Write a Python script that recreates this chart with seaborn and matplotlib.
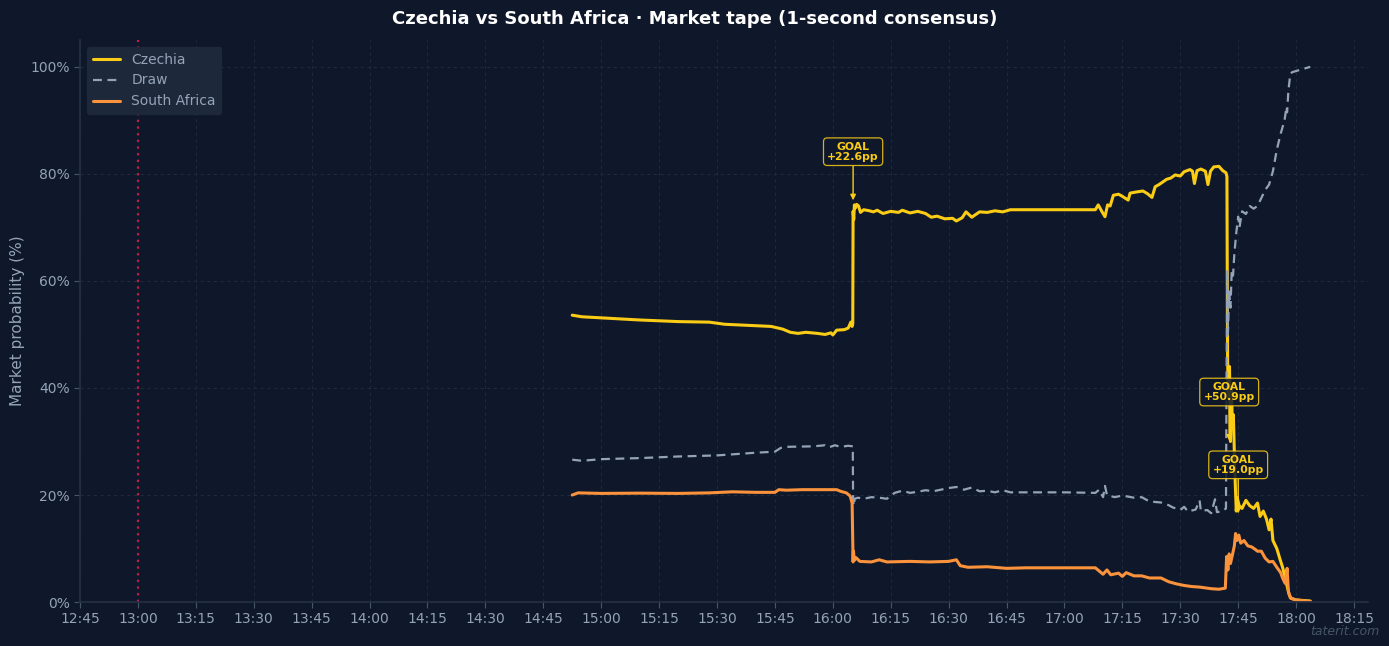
import matplotlib
matplotlib.use("Agg")
import matplotlib.pyplot as plt
import matplotlib.dates as mdates
import numpy as np
import pandas as pd
import seaborn as sns

# ---------------- data ----------------
DAY = "2024-01-01 "
KICKOFF = "13:00:00"

czechia_t = ["14:52:30", "14:55:00", "15:00:00", "15:10:00", "15:20:00", "15:28:00", "15:32:00",
             "15:38:00", "15:44:00", "15:47:00", "15:49:00", "15:51:00", "15:53:00", "15:56:00",
             "15:58:00", "15:59:30", "16:00:00", "16:01:00", "16:03:00", "16:04:00", "16:04:40",
             "16:05:00", "16:05:10", "16:05:15", "16:05:25", "16:05:35", "16:05:50", "16:06:10",
             "16:06:40", "16:07:10", "16:08:00", "16:09:30", "16:10:30", "16:11:30", "16:13:00",
             "16:15:00", "16:17:00", "16:18:00", "16:20:00", "16:22:00", "16:24:00", "16:25:30",
             "16:27:00", "16:29:00", "16:31:00", "16:32:00", "16:33:30", "16:34:30", "16:36:00",
             "16:38:00", "16:40:00", "16:42:00", "16:44:00", "16:46:00", "16:50:00", "17:00:00",
             "17:08:00", "17:08:45", "17:09:40", "17:10:30", "17:11:10", "17:11:50", "17:12:40",
             "17:14:00", "17:15:00", "17:16:30", "17:17:00", "17:18:30", "17:20:20", "17:21:30",
             "17:22:40", "17:23:30", "17:24:30", "17:25:30", "17:26:30", "17:27:30", "17:28:40",
             "17:30:00", "17:31:00", "17:32:30", "17:33:10", "17:33:40", "17:34:20", "17:35:20",
             "17:36:30", "17:37:10", "17:37:50", "17:38:40", "17:40:00", "17:41:00", "17:41:50",
             "17:42:05", "17:42:15", "17:42:30",
             "17:42:45", "17:43:00", "17:43:15", "17:43:30", "17:43:45", "17:44:00", "17:44:15",
             "17:44:30", "17:44:45", "17:45:15", "17:46:00", "17:47:00", "17:48:00", "17:49:00",
             "17:50:00", "17:50:40", "17:51:30", "17:52:20", "17:53:00", "17:53:30", "17:54:00",
             "17:55:00", "17:55:50", "17:56:30", "17:57:10", "17:57:40", "17:58:10", "17:58:40",
             "18:00:00", "18:03:40"]
czechia_v = [53.6, 53.3, 53.1, 52.7, 52.4, 52.3, 51.9,
             51.7, 51.5, 51.0, 50.4, 50.2, 50.4, 50.2,
             50.0, 50.3, 49.9, 50.8, 50.9, 51.2, 52.3,
             51.5, 52.0, 73.0, 71.5, 74.2, 73.6, 74.3,
             74.0, 72.8, 73.3, 73.1, 72.9, 73.2, 72.6,
             73.0, 72.8, 73.2, 72.7, 73.0, 72.6, 71.9,
             72.1, 71.6, 71.7, 71.2, 71.8, 72.9, 71.9,
             72.9, 72.8, 73.1, 72.9, 73.3, 73.3, 73.3,
             73.3, 74.2, 73.0, 72.0, 74.2, 74.0, 76.0,
             76.2, 75.8, 75.1, 76.4, 76.6, 76.8, 76.3,
             75.6, 77.6, 78.0, 78.5, 79.0, 79.2, 79.8,
             79.6, 80.4, 80.8, 80.5, 78.2, 80.6, 80.9,
             80.5, 78.0, 80.5, 81.3, 81.4, 80.6, 80.2,
             79.5, 45.0, 38.0,
             44.0, 30.0, 40.0, 33.0, 35.0, 28.0, 22.0,
             17.0, 19.5, 18.0, 17.5, 19.0, 18.0, 17.5,
             18.5, 16.0, 17.0, 15.5, 13.5, 15.5, 11.5,
             10.0, 8.0, 6.5, 4.5, 3.0, 1.5, 0.7,
             0.4, 0.2]

draw_t = ["14:52:30", "14:55:00", "15:00:00", "15:10:00", "15:20:00", "15:30:00", "15:40:00",
          "15:45:00", "15:46:30", "15:48:00", "15:55:00", "15:58:00", "15:59:00", "16:00:30",
          "16:02:00", "16:04:00", "16:05:10", "16:05:15", "16:05:25", "16:05:40", "16:06:30",
          "16:08:00", "16:10:00", "16:12:00", "16:14:00", "16:16:00", "16:18:00", "16:20:00",
          "16:22:00", "16:24:00", "16:26:00", "16:28:00", "16:30:00", "16:32:00", "16:34:00",
          "16:36:00", "16:38:00", "16:40:00", "16:42:00", "16:44:00", "16:46:00", "16:50:00",
          "17:00:00", "17:08:00", "17:09:00", "17:10:00", "17:10:30", "17:11:00", "17:13:00",
          "17:15:00", "17:18:00", "17:20:00", "17:22:00", "17:25:00", "17:27:00", "17:28:00",
          "17:30:00", "17:31:00", "17:32:00", "17:34:00", "17:35:00", "17:35:20", "17:37:00",
          "17:38:00", "17:39:00", "17:39:30", "17:41:00", "17:41:50", "17:42:00", "17:42:10",
          "17:42:20", "17:42:40", "17:43:00", "17:43:20", "17:43:40", "17:44:00", "17:44:30",
          "17:45:00", "17:45:20", "17:46:00", "17:47:00", "17:48:00", "17:49:00", "17:50:00",
          "17:51:00", "17:52:00", "17:53:00", "17:54:00", "17:55:00", "17:56:00", "17:57:00",
          "17:57:30", "17:57:40", "17:58:00", "17:58:30", "17:59:00", "18:03:40"]
draw_v = [26.6, 26.4, 26.7, 26.9, 27.2, 27.4, 27.9,
          28.1, 28.8, 29.0, 29.1, 29.3, 28.9, 29.3,
          29.0, 29.2, 29.1, 19.0, 18.0, 19.3, 19.5,
          19.3, 19.6, 19.5, 19.3, 20.4, 20.8, 20.4,
          20.6, 20.9, 20.7, 21.0, 21.3, 21.5, 21.0,
          21.4, 20.7, 20.8, 20.5, 20.9, 20.5, 20.5,
          20.5, 20.4, 21.0, 19.6, 21.7, 20.0, 19.6,
          19.9, 19.5, 19.6, 18.8, 18.6, 18.1, 17.7,
          17.2, 17.8, 16.9, 17.3, 19.0, 17.0, 17.2,
          16.6, 19.2, 16.8, 17.0, 17.5, 45.0, 62.0,
          50.0, 58.0, 55.0, 62.0, 61.0, 65.0, 69.0,
          72.0, 70.0, 73.0, 72.5, 74.0, 73.5, 74.0,
          75.5, 77.0, 78.0, 80.5, 84.5, 87.5, 90.0,
          92.5, 91.5, 95.5, 98.7, 99.0, 100.0]

safrica_t = ["14:52:30", "14:54:00", "15:00:00", "15:10:00", "15:20:00", "15:28:00", "15:34:00",
             "15:40:00", "15:45:00", "15:46:00", "15:48:00", "15:52:00", "15:58:00", "16:01:00",
             "16:02:00", "16:03:30", "16:04:30", "16:05:00", "16:05:15", "16:05:20", "16:05:35",
             "16:06:00", "16:07:00", "16:10:00", "16:12:00", "16:14:00", "16:20:00", "16:25:00",
             "16:30:00", "16:32:00", "16:33:00", "16:35:00", "16:40:00", "16:45:00", "16:50:00",
             "17:00:00", "17:08:00", "17:09:00", "17:10:00", "17:11:00", "17:12:00", "17:14:00",
             "17:15:00", "17:16:00", "17:18:00", "17:20:00", "17:22:00", "17:25:00", "17:27:00",
             "17:29:00", "17:31:00", "17:33:00", "17:35:00", "17:38:00", "17:40:00", "17:41:40",
             "17:42:00", "17:42:20", "17:42:40", "17:43:00", "17:43:30", "17:44:00", "17:44:20",
             "17:44:40", "17:45:10", "17:45:40", "17:46:30", "17:47:30", "17:48:30", "17:49:30",
             "17:50:00", "17:51:00", "17:52:00", "17:53:00", "17:54:00", "17:55:00", "17:56:00",
             "17:56:30", "17:57:10", "17:57:40", "17:58:00", "17:58:30", "17:59:30", "18:00:00",
             "18:03:40"]
safrica_v = [20.0, 20.4, 20.3, 20.35, 20.3, 20.4, 20.6,
             20.5, 20.5, 21.0, 20.9, 21.0, 21.0, 21.0,
             20.7, 20.4, 19.8, 18.5, 7.5, 9.5, 7.8,
             8.3, 7.6, 7.5, 7.9, 7.5, 7.6, 7.5,
             7.6, 7.9, 6.8, 6.5, 6.6, 6.3, 6.4,
             6.4, 6.4, 5.8, 5.2, 6.0, 5.1, 5.4,
             4.8, 5.5, 4.9, 4.9, 4.5, 4.5, 3.8,
             3.4, 3.1, 2.9, 2.8, 2.5, 2.4, 2.6,
             8.5, 6.0, 9.0, 7.2, 8.8, 10.5, 12.8,
             11.5, 12.5, 11.0, 11.5, 10.5, 10.3, 9.8,
             9.5, 9.5, 8.2, 7.5, 7.6, 6.5, 5.5,
             4.5, 3.5, 6.3, 2.0, 0.8, 0.5, 0.4,
             0.1]

goal_t = ["16:05:15", "17:42:40", "17:45:00"]
goal_v = [74.8, 29.9, 16.3]
goal_labels = ["GOAL\n+22.6pp", "GOAL\n+50.9pp", "GOAL\n+19.0pp"]

series_names = ["Czechia", "Draw", "South Africa"]
series_colors = ["#facc15", "#94a3b8", "#fb923c"]

# ---------------- style ----------------
BG = "#0f172a"
GRID = "#1e293b"
TXT = "#94a3b8"
SPINE = "#243044"
sns.set_theme(style="dark", rc={
    "axes.facecolor": BG, "figure.facecolor": BG, "savefig.facecolor": BG,
    "axes.edgecolor": SPINE, "text.color": TXT, "axes.labelcolor": TXT,
    "xtick.color": TXT, "ytick.color": TXT,
})
plt.rcParams["font.family"] = ["DejaVu Sans"]


def to_dt(ts):
    return pd.to_datetime([DAY + t for t in ts])


frames = []
for name, ts, vs in [("Czechia", czechia_t, czechia_v),
                     ("Draw", draw_t, draw_v),
                     ("South Africa", safrica_t, safrica_v)]:
    frames.append(pd.DataFrame({"time": to_dt(ts), "prob": vs, "outcome": name}))
df = pd.concat(frames, ignore_index=True)

fig = plt.figure(figsize=(13.89, 6.46), dpi=100)
ax = fig.add_axes([0.0576, 0.068, 0.9274, 0.870])

styles = {"Czechia": dict(lw=2.2, ls="-"),
          "Draw": dict(lw=1.6, ls=(0, (4, 2.5))),
          "South Africa": dict(lw=2.2, ls="-")}
for name, col in zip(series_names, series_colors):
    sub = df[df["outcome"] == name]
    sns.lineplot(data=sub, x="time", y="prob", ax=ax, color=col, label=name,
                 estimator=None, linewidth=styles[name]["lw"],
                 linestyle=styles[name]["ls"])

ko = pd.Timestamp(DAY + KICKOFF)
ax.axvline(ko, color="#e11d48", ls=(0, (1, 2)), lw=1.6, alpha=0.85, zorder=1)

for t, v, lab in zip(goal_t, goal_v, goal_labels):
    ax.annotate(lab, xy=(pd.Timestamp(DAY + t), v), xytext=(0, 36),
                textcoords="offset points", ha="center", va="center",
                fontsize=7.8, fontweight="bold", color="#facc15",
                bbox=dict(boxstyle="round,pad=0.35", fc=BG, ec="#facc15", lw=0.9, alpha=0.85),
                arrowprops=dict(arrowstyle="-|>", color="#facc15", lw=1.0, mutation_scale=8,
                                shrinkA=0, shrinkB=1),
                zorder=6, linespacing=1.0)

last_t = pd.Timestamp(DAY + czechia_t[-1])
ax.set_xlim(ko - pd.Timedelta(minutes=15), last_t + pd.Timedelta(minutes=15))
ax.set_ylim(0, 105)
ax.set_yticks([0, 20, 40, 60, 80, 100])
ax.yaxis.set_major_formatter(matplotlib.ticker.FuncFormatter(lambda v, p: f"{v:.0f}%"))
ax.xaxis.set_major_locator(mdates.MinuteLocator(byminute=[0, 15, 30, 45]))
ax.xaxis.set_major_formatter(mdates.DateFormatter("%H:%M"))
ax.tick_params(axis="both", labelsize=10, colors=TXT, length=4, width=0.8,
               bottom=True, left=True)
ax.tick_params(axis="both", color="#475569")
ax.grid(True, color=GRID, ls=(0, (3, 3)), lw=0.8)
for s in ["top", "right"]:
    ax.spines[s].set_visible(False)
for s in ["left", "bottom"]:
    ax.spines[s].set_color(SPINE)
ax.set_xlabel("")
ax.set_ylabel("Market probability (%)", fontsize=11, color=TXT)

leg = ax.legend(loc="upper left", fontsize=10, facecolor="#1e293b", edgecolor="#1e293b",
                framealpha=0.95, labelcolor=TXT, handlelength=2.0)
leg.set_zorder(10)

fig.suptitle("Czechia vs South Africa · Market tape (1-second consensus)",
             color="white", fontsize=13, fontweight="bold", y=0.985)
fig.text(0.993, 0.022, "taterit.com", ha="right", va="center", fontsize=9,
         style="italic", color="#475569")

fig.savefig("out.png", dpi=100)
